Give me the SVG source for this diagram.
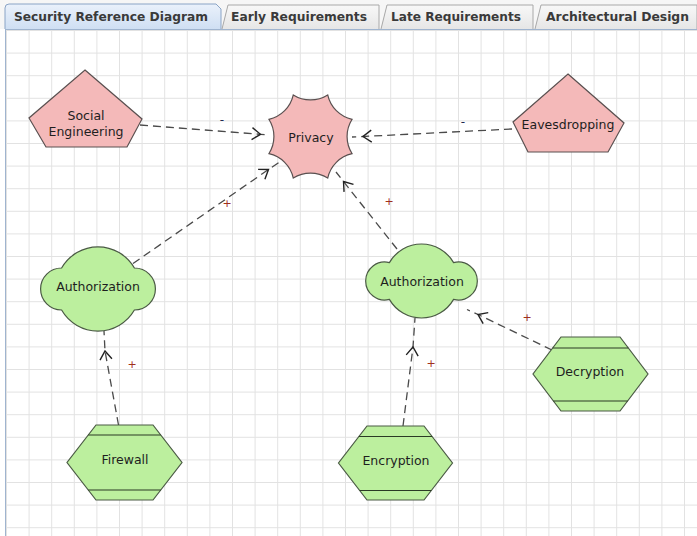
<svg xmlns="http://www.w3.org/2000/svg" width="697" height="536" viewBox="0 0 697 536">
  <style>
    .tab-text { font-family: "DejaVu Sans Condensed", "DejaVu Sans", sans-serif; font-size: 13px; font-weight: bold; fill: #3a3a3a; }
    .label { font-family: "DejaVu Sans", "Liberation Sans", sans-serif; font-size: 12.5px; fill: #1e1e1e; text-anchor: middle; }
    .softgoal { fill: #f4b9b9; stroke: #5a5050; stroke-width: 1.2; }
    .goal { fill: #bcef9e; stroke: #4a5a44; stroke-width: 1.2; }
    .band { stroke: #2a3a24; stroke-width: 1.2; }
    .link { fill: none; stroke: #4a4a4a; stroke-width: 1.3; stroke-dasharray: 8 5; marker-mid: url(#chevron); }
    .plus { font-family: "DejaVu Sans", sans-serif; font-size: 11px; fill: #a0301c; text-anchor: middle; }
    .minus { font-family: "DejaVu Sans", sans-serif; font-size: 12px; fill: #1e2a50; text-anchor: middle; }
  </style>
  <defs>
    <pattern id="grid" x="6" y="7.4" width="22.6" height="22.6" patternUnits="userSpaceOnUse">
      <path d="M0.5 0 V22.6 M0 0.5 H22.6" fill="none" stroke="#e2e2e2" stroke-width="1"/>
    </pattern>
    <linearGradient id="tabSel" x1="0" y1="0" x2="0" y2="1">
      <stop offset="0" stop-color="#eaf1fb"/>
      <stop offset="1" stop-color="#cfdff3"/>
    </linearGradient>
    <linearGradient id="tabOff" x1="0" y1="0" x2="0" y2="1">
      <stop offset="0" stop-color="#f8f8f8"/>
      <stop offset="1" stop-color="#e6e6e6"/>
    </linearGradient>
    <!-- open chevron arrowhead, placed at the tip vertex of each link -->
    <marker id="chevron" viewBox="-10 -7 12 14" markerWidth="12" markerHeight="14" refX="0" refY="0" orient="auto" markerUnits="userSpaceOnUse">
      <path d="M-8.5 -6 L0 0 L-8.5 6" fill="none" stroke="#222" stroke-width="1.4"/>
    </marker>
  </defs>

  <!-- window background and tab strip -->
  <rect x="0" y="0" width="697" height="536" fill="#ffffff"/>
  <rect x="0" y="0" width="697" height="29" fill="#f6f6f6"/>

  <!-- drawing canvas -->
  <g id="canvas">
    <rect x="6" y="30" width="691" height="506" fill="url(#grid)"/>
    <line x1="5.5" y1="29" x2="5.5" y2="536" stroke="#9fb4cf" stroke-width="1"/>
    <line x1="5" y1="29.5" x2="697" y2="29.5" stroke="#9fb4cf" stroke-width="1"/>
  </g>

  <!-- tabs -->
  <g id="tabs">
    <path d="M5 29 V8 Q5 4 9 4 H216 L221 9 V29" fill="url(#tabSel)" stroke="#8aa4c6" stroke-width="1"/>
    <text class="tab-text" x="14" y="21" textLength="194" lengthAdjust="spacingAndGlyphs">Security Reference Diagram</text>
    <path d="M222 29 L228 5 H379 V29" fill="url(#tabOff)" stroke="#a8a8a8" stroke-width="1"/>
    <text class="tab-text" x="231" y="21" textLength="136" lengthAdjust="spacingAndGlyphs">Early Requirements</text>
    <path d="M381 29 L387 5 H533 V29" fill="url(#tabOff)" stroke="#a8a8a8" stroke-width="1"/>
    <text class="tab-text" x="391" y="21" textLength="130" lengthAdjust="spacingAndGlyphs">Late Requirements</text>
    <path d="M535 29 L541 5 H697 V29" fill="url(#tabOff)" stroke="#a8a8a8" stroke-width="1"/>
    <text class="tab-text" x="546" y="21" textLength="143" lengthAdjust="spacingAndGlyphs">Architectural Design</text>
  </g>

  <!-- contribution links (start, arrow tip, end on target) -->
  <g id="links">
    <path class="link" d="M140 125 L260.5 134.3 L269 135"/>
    <path class="link" d="M512 129 L363 136.5 L352 137"/>
    <path class="link" d="M133 263.5 L268.5 169.5 L281 161"/>
    <path class="link" d="M397 249 L343.5 181.5 L336 172"/>
    <path class="link" d="M118.5 425 L105 351 L104 331"/>
    <path class="link" d="M403 426 L413 347 L415 318"/>
    <path class="link" d="M552 350 L478 314.5 L467 309.5"/>
    <text class="minus" x="222" y="124">-</text>
    <text class="minus" x="463" y="126">-</text>
    <text class="plus" x="227" y="207">+</text>
    <text class="plus" x="389" y="205">+</text>
    <text class="plus" x="132" y="368">+</text>
    <text class="plus" x="431" y="367">+</text>
    <text class="plus" x="527" y="321">+</text>
  </g>

  <g id="social-engineering">
    <polygon class="softgoal" points="85,70 142,119 127,147 46,147 29,118"/>
    <text class="label" x="86" y="120">Social</text>
    <text class="label" x="86" y="136">Engineering</text>
  </g>

  <g id="eavesdropping">
    <polygon class="softgoal" points="568,74 624,123 608,152 528,152 513,122"/>
    <text class="label" x="568" y="129">Eavesdropping</text>
  </g>

  <g id="privacy">
    <path class="softgoal" d="M293.3 94.9 A32 32 0 0 0 327.7 94.9 A32 32 0 0 0 352.1 119.3 A32 32 0 0 0 352.1 153.7 A32 32 0 0 0 327.7 178.1 A32 32 0 0 0 293.3 178.1 A32 32 0 0 0 268.9 153.7 A32 32 0 0 0 268.9 119.3 A32 32 0 0 0 293.3 94.9 Z"/>
    <text class="label" x="311" y="142">Privacy</text>
  </g>

  <g id="authorization-left">
    <path class="goal" d="M61.6 268 A42 42 0 0 1 134.4 268 A21 21 0 1 1 134.4 310 A42 42 0 0 1 61.6 310 A21 21 0 1 1 61.6 268 Z"/>
    <text class="label" x="98" y="291">Authorization</text>
  </g>

  <g id="authorization-right">
    <path class="goal" d="M389.4 262.6 A37 37 0 0 1 453.6 262.6 A19 19 0 1 1 453.6 299.4 A37 37 0 0 1 389.4 299.4 A19 19 0 1 1 389.4 262.6 Z"/>
    <text class="label" x="422" y="286">Authorization</text>
  </g>

  <g id="firewall">
    <polygon class="goal" points="96,425 153,425 182,462.5 153,500 96,500 67,462.5"/>
    <line class="band" x1="88.3" y1="435" x2="160.7" y2="435"/>
    <line class="band" x1="88.3" y1="490" x2="160.7" y2="490"/>
    <text class="label" x="125" y="464">Firewall</text>
  </g>

  <g id="encryption">
    <polygon class="goal" points="367,426 424,426 452.5,463 424,500 367,500 338.5,463"/>
    <line class="band" x1="358.9" y1="436.5" x2="432.1" y2="436.5"/>
    <line class="band" x1="359.7" y1="490.5" x2="431.3" y2="490.5"/>
    <text class="label" x="396" y="464.5">Encryption</text>
  </g>

  <g id="decryption">
    <polygon class="goal" points="561,337 620,337 648,374 620,411 561,411 533,374"/>
    <line class="band" x1="552.7" y1="348" x2="628.3" y2="348"/>
    <line class="band" x1="553.4" y1="401" x2="627.6" y2="401"/>
    <text class="label" x="590" y="376">Decryption</text>
  </g>
</svg>
